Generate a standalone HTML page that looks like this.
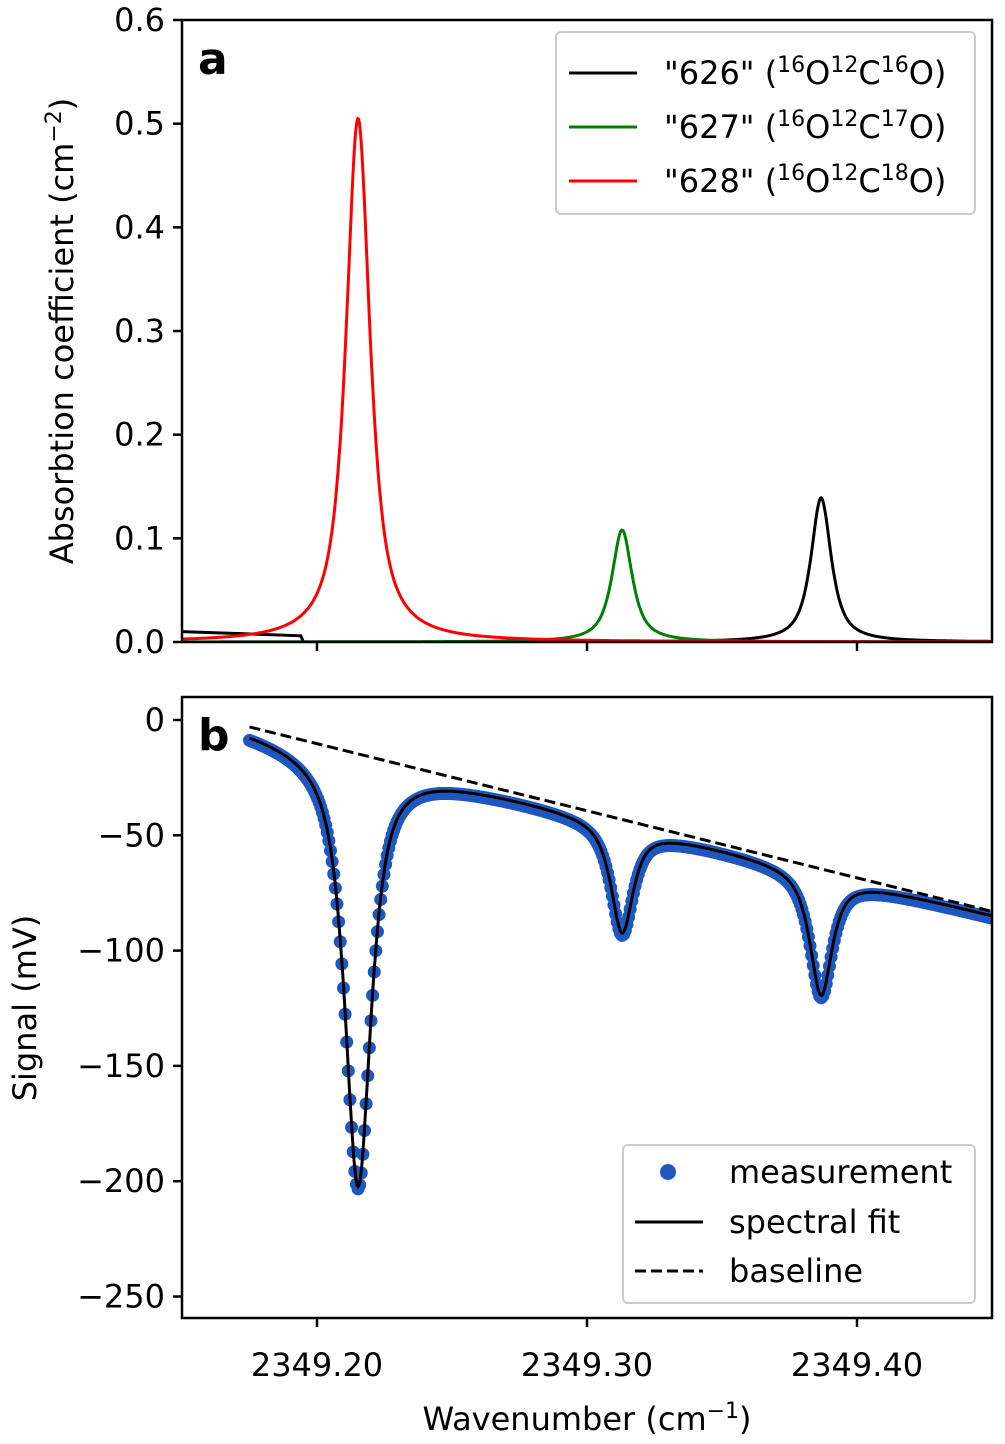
<!DOCTYPE html>
<html><head><meta charset="utf-8"><style>
body{margin:0;background:#fff}
svg{display:block;font-family:"DejaVu Sans","Liberation Sans",sans-serif}
</style></head><body>
<svg id="c" width="1005" height="1444" viewBox="0 0 1005 1444" xmlns="http://www.w3.org/2000/svg"></svg>
<script>
const xTicks=[2349.20,2349.30,2349.40];
const xTickLabels=["2349.20","2349.30","2349.40"];
const aTicks=[0,0.1,0.2,0.3,0.4,0.5,0.6];
const aTickLabels=["0.0","0.1","0.2","0.3","0.4","0.5","0.6"];
const bTicks=[0,-50,-100,-150,-200,-250];
const bTickLabels=["0","\u221250","\u2212100","\u2212150","\u2212200","\u2212250"];
const isoNames=["626","627","628"];
const isoColors=["#000","#008000","#ff0000"];
const peakCenters=[2349.3867,2349.3130,2349.2152];
const peakHeights=[0.139,0.108,0.505];
const peakWidths=[0.0045,0.0045,0.0053];
const signalDepths=[53,47,186];
const baselineX=[2349.175,2349.45];
const baselineY=[-3,-83];
const signalOffset=-1.5;
const measStart=2349.175, measEnd=2349.45, measStep=0.0006;

const NS="http://www.w3.org/2000/svg";
const svg=document.getElementById('c');
function el(t,a,p){const e=document.createElementNS(NS,t);for(const k in a)e.setAttribute(k,a[k]);(p||svg).appendChild(e);return e;}
const L=182,R=992;
const X=v=>L+(v-2349.15)/0.3*(R-L);
const aT=20,aB=642, YA=v=>aB-(v/0.6)*(aB-aT);
const bT=697,bB=1318, YB=v=>720+(-v/50)*115.3;
function pv(x,c,w){const d=(x-c)/w;const eta=0.85;return eta/(1+d*d)+(1-eta)*Math.exp(-Math.LN2*d*d);}
function base(x){return baselineY[0]+(x-baselineX[0])/(baselineX[1]-baselineX[0])*(baselineY[1]-baselineY[0]);}
function sig(x){let s=base(x)+signalOffset;for(let i=0;i<3;i++)s-=signalDepths[i]*pv(x,peakCenters[i],peakWidths[i]*1.1);return s;}

const defs=el('defs',{});
const ca=el('clipPath',{id:'ca'},defs);el('rect',{x:L,y:aT,width:R-L,height:aB-aT},ca);
const cb=el('clipPath',{id:'cb'},defs);el('rect',{x:L,y:bT,width:R-L,height:bB-bT},cb);
const ga=el('g',{'clip-path':'url(#ca)'});
for(let i=0;i<3;i++){
  let d='';
  for(let x=2349.15;x<=2349.4501;x+=0.0003){const v=peakHeights[i]*pv(x,peakCenters[i],peakWidths[i]);d+=(d?'L':'M')+X(x).toFixed(1)+','+YA(v).toFixed(1);}
  if(i===0){d='M'+X(2349.15)+','+YA(0.010)+'L'+X(2349.194)+','+YA(0.006)+'L'+X(2349.195)+','+YA(0)+' '+d.replace('M','L');}
  const p=el('path',{d:d,fill:'none',stroke:isoColors[i],'stroke-width':3},ga);
  
}
const gb=el('g',{'clip-path':'url(#cb)'});
for(let x=measStart;x<=measEnd;x+=measStep){const c=el('circle',{cx:X(x),cy:YB(sig(x)-1),r:6.5,fill:'#1f56c0'},gb);}
let fd='';for(let x=measStart;x<=2349.4501;x+=0.0003){fd+=(fd?'L':'M')+X(x).toFixed(1)+','+YB(sig(x)).toFixed(1);}
const fp=el('path',{d:fd,fill:'none',stroke:'#000','stroke-width':3},gb);
const bl=el('line',{x1:X(baselineX[0]),y1:YB(baselineY[0]),x2:X(baselineX[1]),y2:YB(baselineY[1]),stroke:'#000','stroke-width':3,'stroke-dasharray':'11,5'},gb);


function frame(t,b,name){const r=el('rect',{x:L,y:t,width:R-L,height:b-t,fill:'none',stroke:'#000','stroke-width':2.5});}
frame(aT,aB,'frame-a');frame(bT,bB,'frame-b');
function txt(s,x,y,anchor,size,name,extra){const t=el('text',Object.assign({x:x,y:y,'text-anchor':anchor,'font-size':size},extra||{}));t.textContent=s;return t;}
const FS=32;
xTicks.forEach((v,i)=>{el('line',{x1:X(v),x2:X(v),y1:aB,y2:aB+9,stroke:'#000','stroke-width':2.5});el('line',{x1:X(v),x2:X(v),y1:bB,y2:bB+9,stroke:'#000','stroke-width':2.5});txt(xTickLabels[i],X(v),1376,'middle',FS,'x-tick-label');});
aTicks.forEach((v,i)=>{el('line',{x1:L-9,x2:L,y1:YA(v),y2:YA(v),stroke:'#000','stroke-width':2.5});txt(aTickLabels[i],L-17,YA(v)+11,'end',FS,'y-tick-label-a');});
bTicks.forEach((v,i)=>{el('line',{x1:L-9,x2:L,y1:YB(v),y2:YB(v),stroke:'#000','stroke-width':2.5});txt(bTickLabels[i],L-17,YB(v)+11,'end',FS,'y-tick-label-b');});
txt('a',198,74,'start',44,'panel-label-a',{'font-weight':'bold'});
txt('b',198,750,'start',44,'panel-label-b',{'font-weight':'bold'});
const ya=txt('',73,331,'middle',FS,'y-axis-title-a',{transform:'rotate(-90 73 331)'});ya.innerHTML='Absorbtion coefficient (cm<tspan dy="-12" font-size="22">\u22122</tspan><tspan dy="12">)</tspan>';
txt('Signal (mV)',36,1008,'middle',FS,'y-axis-title-b',{transform:'rotate(-90 36 1008)'});
const xt=txt('',587,1430,'middle',FS,'x-axis-title');xt.innerHTML='Wavenumber (cm<tspan dy="-12" font-size="22">\u22121</tspan><tspan dy="12">)</tspan>';

const la=el('rect',{x:556,y:32,width:419,height:182,rx:5,fill:'#fff',stroke:'#ccc','stroke-width':2});
const sup=[["16","12","16"],["16","12","17"],["16","12","18"]];
[0,1,2].forEach(k=>{const y=73+k*54;el('line',{x1:569,x2:637,y1:y,y2:y,stroke:isoColors[k],'stroke-width':3});
 const t=txt('',664,y+11,'start',FS,'legend-entry-'+isoNames[k]);
 t.innerHTML='"'+isoNames[k]+'" (<tspan dy="-12" font-size="22">'+sup[k][0]+'</tspan><tspan dy="12">O</tspan><tspan dy="-12" font-size="22">'+sup[k][1]+'</tspan><tspan dy="12">C</tspan><tspan dy="-12" font-size="22">'+sup[k][2]+'</tspan><tspan dy="12">O)</tspan>';});
const lb=el('rect',{x:623,y:1145,width:352,height:158,rx:5,fill:'#fff',stroke:'#ccc','stroke-width':2});
el('circle',{cx:668,cy:1172,r:8,fill:'#1f56c0'});txt('measurement',729,1183,'start',FS,'legend-entry-measurement');
el('line',{x1:635,x2:703,y1:1222,y2:1222,stroke:'#000','stroke-width':3});txt('spectral fit',729,1233,'start',FS,'legend-entry-fit');
el('line',{x1:635,x2:703,y1:1271,y2:1271,stroke:'#000','stroke-width':3,'stroke-dasharray':'11,5'});txt('baseline',729,1282,'start',FS,'legend-entry-baseline');
</script>
</body></html>
